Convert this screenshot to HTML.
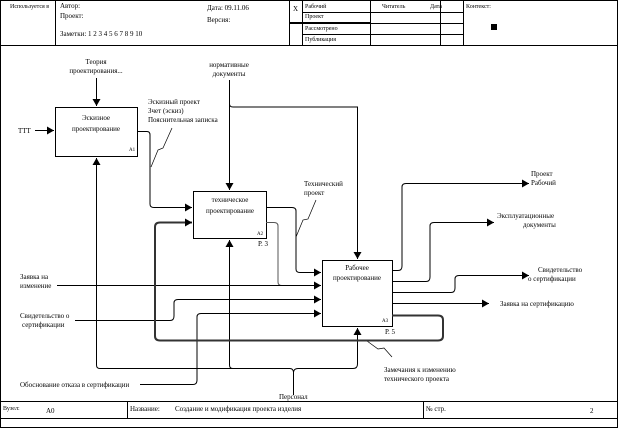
<!DOCTYPE html>
<html><head><meta charset="utf-8"><style>
html,body{margin:0;padding:0;background:#fff;}
svg{display:block;font-family:"Liberation Serif",serif;}
text{font-size:7px;fill:#000;}
</style></head><body>
<svg width="618" height="428" viewBox="0 0 618 428" xmlns="http://www.w3.org/2000/svg">
<defs><marker id="a" markerWidth="8" markerHeight="8" refX="7" refY="4" orient="auto" markerUnits="userSpaceOnUse"><path d="M0,0 L7,4 L0,8z" fill="#000"/></marker></defs>
<rect x="0.5" y="0.5" width="617" height="427" fill="#fff" stroke="#000"/>
<!-- header -->
<g stroke="#000" stroke-width="1" fill="none">
<line x1="0" y1="45.5" x2="618" y2="45.5"/>
<line x1="55.5" y1="0" x2="55.5" y2="45"/>
<line x1="289.5" y1="0" x2="289.5" y2="45"/>
<line x1="302.5" y1="0" x2="302.5" y2="45"/>
<line x1="370.5" y1="0" x2="370.5" y2="45"/>
<line x1="440.5" y1="0" x2="440.5" y2="45"/>
<line x1="463.5" y1="0" x2="463.5" y2="45"/>
<line x1="302" y1="12.5" x2="463" y2="12.5"/>
<line x1="289" y1="23" x2="370" y2="23" stroke-width="2"/>
<line x1="370" y1="23.5" x2="463" y2="23.5"/>
<line x1="302" y1="34.5" x2="463" y2="34.5"/>
<line x1="0" y1="401.5" x2="618" y2="401.5"/>
<line x1="0" y1="418.5" x2="618" y2="418.5"/>
<line x1="127.5" y1="401" x2="127.5" y2="418"/>
<line x1="423.5" y1="401" x2="423.5" y2="418"/>
</g>
<rect x="491" y="24" width="6" height="6" fill="#000"/>
<text x="10" y="8" style="font-size:6px">Используется в</text>
<text x="60" y="8">Автор:</text>
<text x="60" y="18">Проект:</text>
<text x="60" y="36">Заметки:  1  2  3  4  5  6  7  8  9  10</text>
<text x="207" y="10">Дата:    09.11.06</text>
<text x="207" y="22">Версия:</text>
<text x="293" y="11">X</text>
<text x="305" y="8" style="font-size:6px">Рабочий</text>
<text x="305" y="18" style="font-size:6px">Проект</text>
<text x="305" y="30" style="font-size:6px">Рассмотрено</text>
<text x="305" y="41" style="font-size:6px">Публикация</text>
<text x="382" y="8" style="font-size:6px">Читатель</text>
<text x="430" y="8" style="font-size:6px">Дата</text>
<text x="466" y="8" style="font-size:6px">Контекст:</text>
<text x="3" y="410" style="font-size:6px">Вузел:</text>
<text x="46" y="413">A0</text>
<text x="130" y="411">Название:</text>
<text x="175" y="411">Создание и модификация проекта изделия</text>
<text x="426" y="411">№ стр.</text>
<text x="590" y="413">2</text>
<!-- boxes -->
<g fill="#fff" stroke="#000">
<rect x="55.5" y="107.5" width="82" height="49"/>
<rect x="193.5" y="191.5" width="73" height="47"/>
<rect x="322.5" y="260.5" width="70" height="66"/>
</g>
<g text-anchor="middle" style="font-size:8px">
<text x="96" y="120">Эскизное</text><text x="96" y="131">проектирование</text>
<text x="230" y="202">техническое</text><text x="230" y="213">проектирование</text>
<text x="357" y="270">Рабочее</text><text x="357" y="280">проектирование</text>
</g>
<text x="129" y="151" style="font-size:5px">A1</text>
<text x="257" y="235" style="font-size:5px">A2</text>
<text x="382" y="322" style="font-size:5px">A3</text>
<text x="258" y="246">Р. 3</text>
<text x="385" y="334">Р. 5</text>
<!-- connectors -->
<g fill="none" stroke="#000" stroke-width="1">
<path d="M96.5,78 V106" marker-end="url(#a)"/>
<path d="M35,130.5 H54" marker-end="url(#a)"/>
<path d="M229.5,80 V190" marker-end="url(#a)"/>
<path d="M229.5,104 Q229.5,107 233,107 H357.5 V259" marker-end="url(#a)"/>
<path d="M137,131.5 H147 Q150,131.5 150,135 V204 Q150,207.5 154,207.5 H192" marker-end="url(#a)"/>
<path d="M266,207.5 H292 Q296,207.5 296,211 V269 Q296,272.5 300,272.5 H321" marker-end="url(#a)"/>
<path d="M266,222.5 H274 Q278,222.5 278,226 V282 Q278,285.5 282,285.5 H321" stroke="#555" marker-end="url(#a)"/>
<path d="M57,285.5 H321"/>
<path d="M75,320.5 H170 Q174,320.5 174,316 V303 Q174,299.5 178,299.5 H321" marker-end="url(#a)"/>
<path d="M140,384.5 H193 Q197,384.5 197,380 V317 Q197,313.5 201,313.5 H321" marker-end="url(#a)"/>
<path d="M293.5,395 V372 M293.5,372 Q293,368 289,368.5 H100 Q96.5,368.5 96.5,365 V158" marker-end="url(#a)"/>
<path d="M233,368.5 Q229.5,368.5 229.5,365 V240" marker-end="url(#a)"/>
<path d="M293.5,372 Q294,368.5 298,368.5 H353 Q357.5,368.5 357.5,364 V328" marker-end="url(#a)"/>
<path d="M392,270.5 H398 Q402,270.5 402,266 V187 Q402,183.5 406,183.5 H529" marker-end="url(#a)"/>
<path d="M392,281.5 H426 Q430,281.5 430,277 V226 Q430,222.5 434,222.5 H494" marker-end="url(#a)"/>
<path d="M392,292.5 H451 Q455,292.5 455,288 V279 Q455,275.5 459,275.5 H529" marker-end="url(#a)"/>
<path d="M392,303.5 H489" marker-end="url(#a)"/>
<!-- leaders -->
<path d="M151,167 L158,150 L163,148 L172,128" stroke-width="0.7"/>
<path d="M296,237 L303,220 L308,219 L316,200" stroke-width="0.7"/>
<path d="M367,341 L378,349 L384,348 L392,357" stroke-width="0.7"/>
</g>
<path d="M392,315.5 H438 Q443,315.5 443,320 V336 Q443,340.5 438,340.5 H160 Q155,340.5 155,336 V227 Q155,222.5 160,222.5 H192" fill="none" stroke="#333" stroke-width="2" marker-end="url(#a)"/>
<g>
<text x="96" y="64" text-anchor="middle">Теория</text>
<text x="96" y="73" text-anchor="middle">проектирования...</text>
<text x="229" y="67" text-anchor="middle">нормативные</text>
<text x="229" y="76" text-anchor="middle">документы</text>
<text x="18" y="133">ТТТ</text>
<text x="148" y="104">Эскизный проект</text>
<text x="148" y="113">Зчет (эскиз)</text>
<text x="148" y="122">Пояснительная записка</text>
<text x="304" y="186">Технический</text>
<text x="304" y="195">проект</text>
<text x="531" y="176">Проект</text>
<text x="531" y="185">Рабочий</text>
<text x="497" y="218">Эксплуатационные</text>
<text x="523" y="227">документы</text>
<text x="538" y="272">Свидетельство</text>
<text x="528" y="281">о сертификации</text>
<text x="500" y="306">Заявка на сертификацию</text>
<text x="20" y="279">Заявка на</text>
<text x="20" y="288">изменение</text>
<text x="20" y="318">Свидетельство о</text>
<text x="22" y="327">сертификации</text>
<text x="20" y="387">Обоснование отказа в сертификации</text>
<text x="384" y="372">Замечания к изменению</text>
<text x="384" y="381">технического проекта</text>
<text x="279" y="399">Персонал</text>
</g>
</svg>
</body></html>
